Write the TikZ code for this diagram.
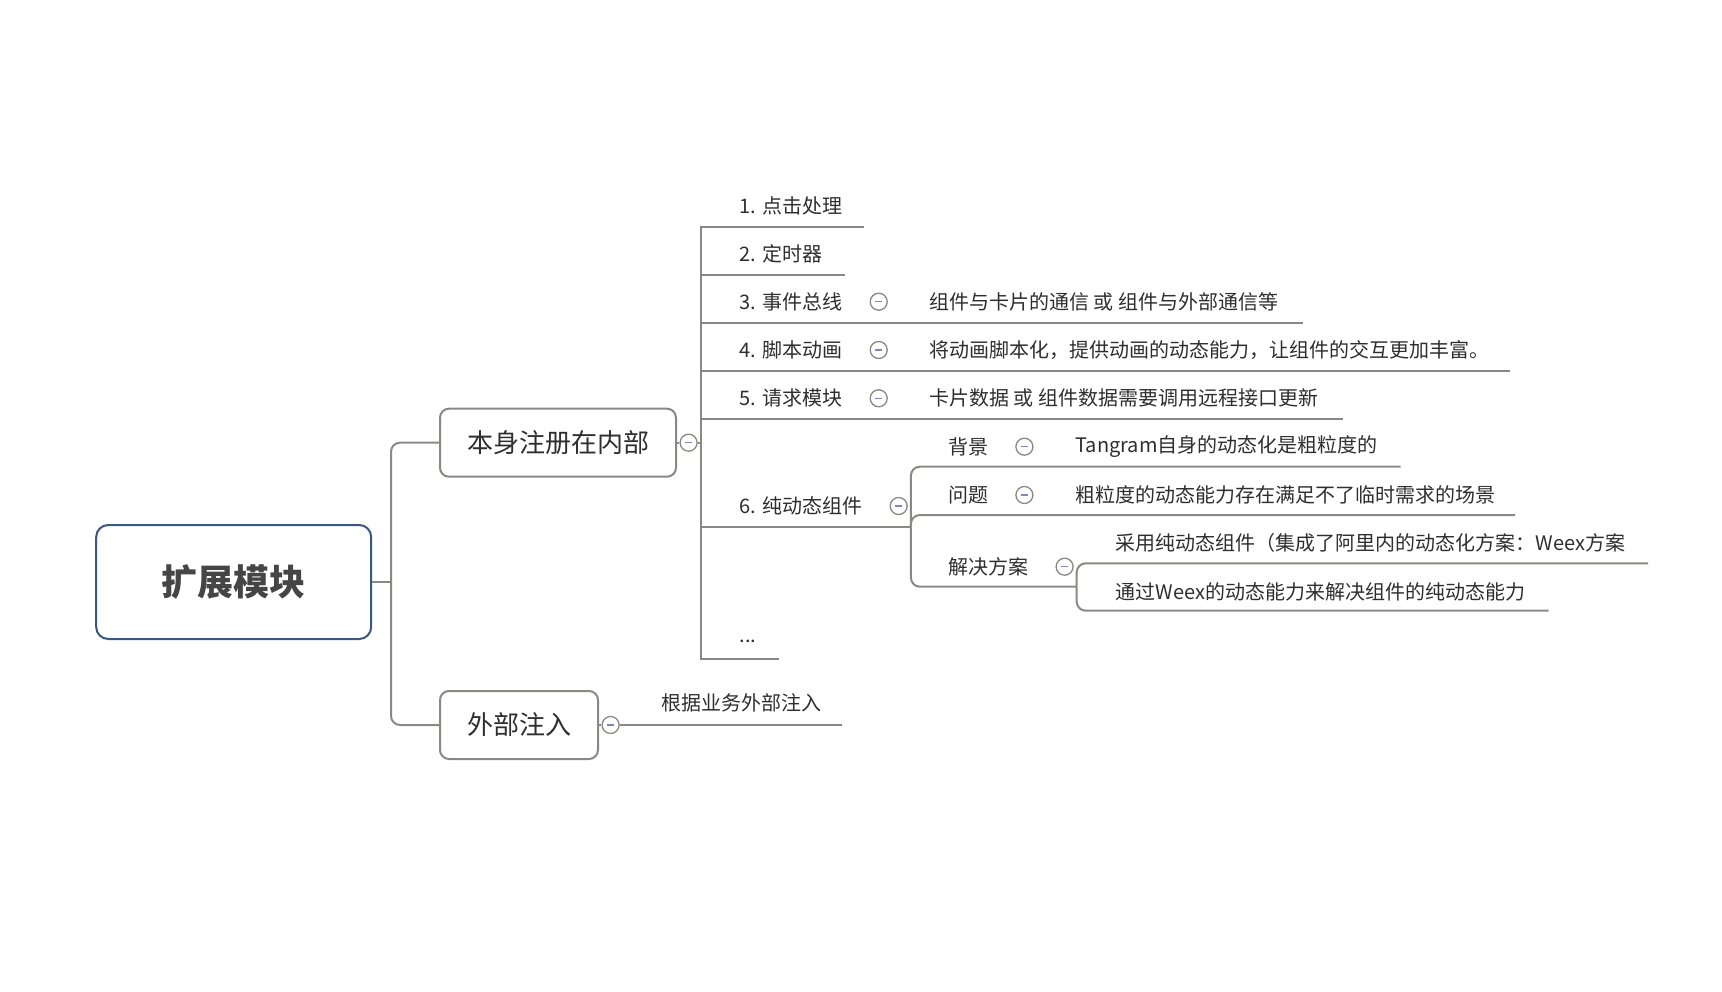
\documentclass[tikz,border=0pt]{standalone}
\usepackage{fontspec}
\setmainfont{Noto Sans CJK SC}
\definecolor{MapBlue}{HTML}{3A5784}
\definecolor{MapGray}{HTML}{8A8884}
\definecolor{MapText}{HTML}{2E2E2E}
\definecolor{MapRoot}{HTML}{454545}
\definecolor{MapMinus}{HTML}{7C86B8}
\usepackage{tikz}
\usetikzlibrary{positioning, calc}
\tikzset{
    % Topic styles
    root topic/.style={
        rectangle,
        rounded corners=12pt,
        draw=MapBlue,
        fill=white,
        line width=2pt,
        minimum width=275pt,
        minimum height=114pt,
        font=\fontsize{36}{40}\selectfont\bfseries,
        text=MapRoot
    },
    main topic/.style={
        rectangle,
        rounded corners=9pt,
        draw=MapGray,
        fill=white,
        line width=2pt,
        inner xsep=27pt,
        minimum height=68pt,
        font=\fontsize{26}{30}\selectfont,
        text=MapText
    },
    sub topic/.style={
        anchor=west,
        inner sep=0pt,
        font=\fontsize{20}{24}\selectfont,
        text=MapText
    },
    fold/.style={
        circle,
        draw=MapGray,
        fill=white,
        line width=1.3pt,
        minimum size=17pt,
        inner sep=0pt,
        path picture={
            \draw[MapMinus, line width=1.5pt]
                ([xshift=-3.5pt]path picture bounding box.center) --
                ([xshift=3.5pt]path picture bounding box.center);
        }
    },
    branch/.style={
        draw=MapGray,
        line width=2pt
    },
    curved branch/.style={
        branch,
        rounded corners=9pt
    }
}

\begin{document}
\begin{tikzpicture}[x=1pt, y=-1pt]
        \useasboundingbox (0,0) rectangle (1722,992);

        % Root
        \node[root topic] (root) at (233.7, 582) {扩展模块};

        % Main topics
        \node[main topic, anchor=west] (inner) at (439, 442.7) {本身注册在内部};
        \node[main topic, anchor=west] (outer) at (439, 725) {外部注入};
        \coordinate (trunk) at (391, 582);
        \draw[branch] (root.east) -- (trunk);
        \draw[curved branch] (trunk) |- (inner.west);
        \draw[curved branch] (trunk) |- (outer.west);

        % Fold buttons of main topics
        \node[fold] (inner fold) at (688.6, 442.7) {};
        \node[fold] (outer fold) at (610.6, 725) {};
        \draw[branch] (inner.east) -- (inner fold);
        \draw[branch] (outer.east) -- (outer fold);

        % External injection
        \node[sub topic] (by business) at (661.5, 703) {根据业务外部注入};
        \coordinate (by business end) at (842.3, 725);
        \draw[branch] (outer fold) -- (by business end);

        % Spine of internal registration
        \coordinate (u1) at (700.7, 227);
        \coordinate (u1 end) at (864.4, 227);
        \coordinate (u2) at (700.7, 274.7);
        \coordinate (u2 end) at (845, 274.7);
        \coordinate (u3) at (700.7, 323);
        \coordinate (u3 end) at (1302.8, 323);
        \coordinate (u4) at (700.7, 371);
        \coordinate (u4 end) at (1510, 371);
        \coordinate (u5) at (700.7, 418.7);
        \coordinate (u5 end) at (1342.5, 418.7);
        \coordinate (u6) at (700.7, 527.3);
        \coordinate (u6 end) at (910.9, 527.3);
        \coordinate (u7) at (700.7, 658.7);
        \coordinate (u7 end) at (778.9, 658.7);
        \coordinate (spine) at (700.7, 442.7);
        \draw[branch] (inner fold) -- (spine);
        \draw[branch] (u1 end) -- (u1) -- (u7) -- (u7 end);
        \draw[branch] (u2) -- (u2 end);
        \draw[branch] (u3) -- (u3 end);
        \draw[branch] (u4) -- (u4 end);
        \draw[branch] (u5) -- (u5 end);
        \draw[branch] (u6) -- (u6 end);

        % Items
        \node[sub topic] (click) at (739.4, 206) {1. 点击处理};
        \node[sub topic] (timer) at (739.4, 254) {2. 定时器};
        \node[sub topic] (bus) at (739.4, 301.7) {3. 事件总线};
        \node[sub topic] (anim) at (739.4, 350) {4. 脚本动画};
        \node[sub topic] (request) at (739.4, 398.3) {5. 请求模块};
        \node[sub topic] (dynamic) at (739.4, 506) {6. 纯动态组件};
        \node[sub topic] (more) at (739.4, 641.7) {...};

        \node[fold] (bus fold) at (878.7, 301.7) {};
        \node[fold] (anim fold) at (878.7, 350) {};
        \node[fold] (request fold) at (878.7, 398.3) {};
        \node[fold] (dynamic fold) at (898.7, 506) {};

        \node[sub topic] (bus note) at (929, 301.7) {组件与卡片的通信 或 组件与外部通信等};
        \node[sub topic] (anim note) at (929, 350) {将动画脚本化，提供动画的动态能力，让组件的交互更加丰富。};
        \node[sub topic] (request note) at (929, 398.3) {卡片数据 或 组件数据需要调用远程接口更新};

        % Pure dynamic component
        \coordinate (bg end) at (1400.7, 466.7);
        \coordinate (pb end) at (1515, 515);
        \coordinate (sol end) at (1076.7, 586.7);
        \draw[curved branch] (u6 end) |- (bg end);
        \draw[curved branch] (u6 end) |- (pb end);
        \draw[curved branch] (u6 end) |- (sol end);

        \node[sub topic] (background) at (948.5, 446.7) {背景};
        \node[sub topic] (problem) at (948.5, 495) {问题};
        \node[sub topic] (solution) at (948.5, 566.7) {解决方案};
        \node[fold] (background fold) at (1024.4, 446.7) {};
        \node[fold] (problem fold) at (1024.4, 495) {};
        \node[fold] (solution fold) at (1064.6, 566.7) {};

        \node[sub topic] (background note) at (1075.4, 446.7) {Tangram自身的动态化是粗粒度的};
        \node[sub topic] (problem note) at (1075.4, 495) {粗粒度的动态能力存在满足不了临时需求的场景};

        % Solution details
        \coordinate (weex end) at (1648, 563.3);
        \coordinate (ability end) at (1548.6, 610.7);
        \draw[curved branch] (sol end) |- (weex end);
        \draw[curved branch] (sol end) |- (ability end);
        \node[sub topic] (weex) at (1115.6, 542.7) {采用纯动态组件（集成了阿里内的动态化方案：Weex方案};
        \node[sub topic] (ability) at (1115.6, 591.7) {通过Weex的动态能力来解决组件的纯动态能力};
    \end{tikzpicture}
\end{document}
